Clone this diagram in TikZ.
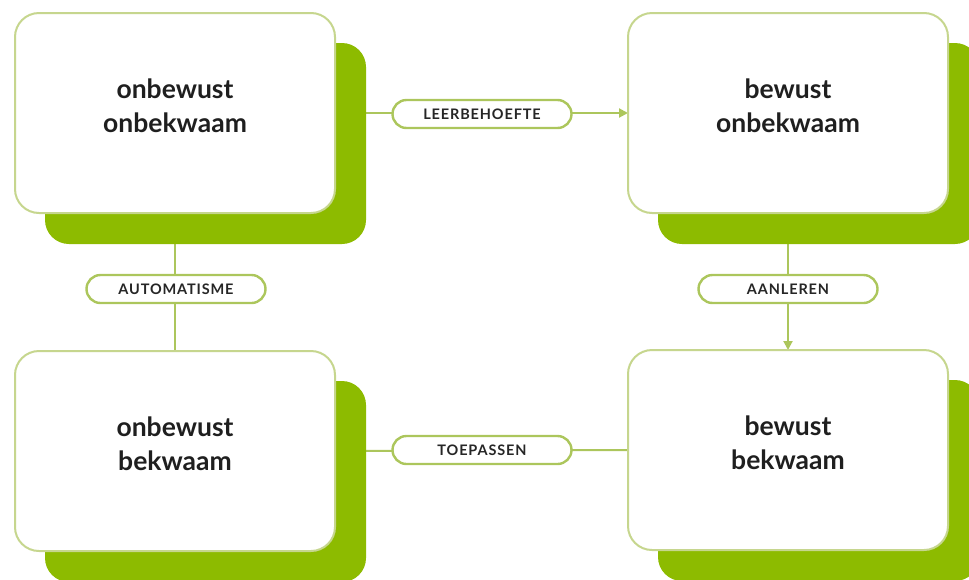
\documentclass[tikz,border=0pt]{standalone}
\usepackage{fontspec}
\setmainfont{Lato}
\newfontfamily\pillfont[LetterSpace=6]{Lato}
\usetikzlibrary{arrows.meta}
\definecolor{shadowgreen}{RGB}{141,187,0}
\definecolor{boxline}{RGB}{198,214,142}
\definecolor{linkgreen}{RGB}{172,198,92}
\pgfdeclarelayer{bg}
\pgfsetlayers{bg,main}
\begin{document}
\begin{tikzpicture}[x=1pt,y=-1pt,
  stage/.style={draw=boxline, line width=2pt, fill=white, rounded corners=24pt,
    minimum width=320pt, minimum height=200pt, outer sep=0pt, inner sep=0pt},
  shade/.style={fill=shadowgreen, rounded corners=24pt},
  stagetext/.style={font=\fontsize{26.5}{34}\selectfont\bfseries, align=center, text=black!88},
  pill/.style={draw=linkgreen, line width=2.4pt, fill=white, rounded corners=14pt,
    minimum width=179pt, minimum height=28pt, inner sep=0pt, text=black!85,
    font=\pillfont\fontsize{14.5}{15}\selectfont\bfseries},
  link/.style={draw=linkgreen, line width=2pt},
  tip/.style={-{Triangle[length=9pt,width=9pt]}}
]
\path[use as bounding box] (0,0) rectangle (969,579);
\clip (0,0) rectangle (969,579);

% boxes
\node[stage] (ou) at (175,113) {};
\node[stage] (bo) at (788,113) {};
\node[stage] (ub) at (175,451) {};
\node[stage] (bb) at (788,450) {};

\begin{pgfonlayer}{bg}
  % connectors
  \draw[link,tip] (ou.east) -- (bo.west);
  \draw[link] (ou.south) -- (ub.north);
  \draw[link,tip] (bo.south) -- (bb.north);
  \draw[link] (ub.east) -- (bb.west);
  % shadows
  \foreach \n in {ou,bo,ub,bb}{
    \fill[shade] ([xshift=30pt,yshift=-30pt]\n.north west) rectangle ([xshift=31pt,yshift=-31pt]\n.south east);
  }
\end{pgfonlayer}

% texts
\node[stagetext] (tou) at ([yshift=7pt]ou.center) {onbewust\\onbekwaam};
\node[stagetext] (tbo) at ([yshift=7pt]bo.center) {bewust\\onbekwaam};
\node[stagetext] (tub) at ([yshift=7pt]ub.center) {onbewust\\bekwaam};
\node[stagetext] (tbb) at ([yshift=7pt]bb.center) {bewust\\bekwaam};

% labels
\node[pill] (leer) at (482,114) {LEERBEHOEFTE};
\node[pill] (auto) at (176,289) {AUTOMATISME};
\node[pill] (aanl) at (788,289) {AANLEREN};
\node[pill] (toep) at (482,450) {TOEPASSEN};
\end{tikzpicture}
\end{document}
